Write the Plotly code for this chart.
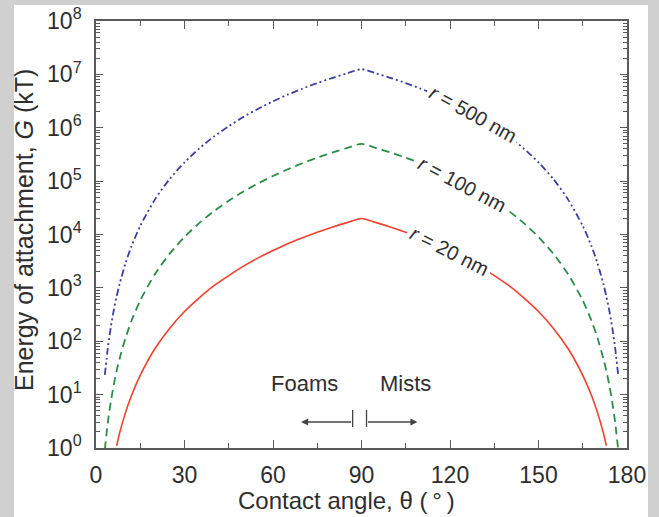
import plotly.graph_objects as go

# Contact angle (degrees) and attachment energy G (kT) for three particle radii
theta_20 = [7, 8, 10, 12, 15, 20, 25, 30, 35, 40, 45, 50, 55, 60, 65, 70, 75, 80, 85, 90,
            95, 100, 105, 110, 115, 120, 125, 130, 135, 140, 145, 150, 155, 160, 165, 168, 170, 172, 173]
g_20 = [1.1, 1.9, 4.6, 9.5, 23, 73, 176, 360, 650, 1100, 1700, 2550, 3650, 5000, 6700, 8650,
        11000, 13700, 16700, 20000,
        16700, 13700, 11000, 8650, 6700, 5000, 3650, 2550, 1700, 1100, 650, 360, 176, 73, 23,
        9.5, 4.6, 1.9, 1.1]

theta_100 = [3, 4, 5, 6, 7, 8, 10, 12, 15, 20, 25, 30, 35, 40, 45, 50, 55, 60, 65, 70, 75, 80, 85, 90,
             95, 100, 105, 110, 115, 120, 125, 130, 135, 140, 145, 150, 155, 160, 165, 168, 170,
             172, 173, 174, 175, 176, 177]
g_100 = [0.94, 3.0, 7.2, 15, 28, 47, 115, 240, 580, 1820, 4390, 8980, 16350, 27400, 42900, 63800,
         90900, 125000, 166700, 216500, 274700, 341500, 416700, 500000,
         416700, 341500, 274700, 216500, 166700, 125000, 90900, 63800, 42900, 27400, 16350, 8980,
         4390, 1820, 580, 240, 115, 47, 28, 15, 7.2, 3.0, 0.94]

theta_500 = theta_100
g_500 = [23.5, 74, 181, 375, 694, 1180, 2890, 5970, 14500, 45500, 110000, 224000, 409000, 684000,
         1.07e6, 1.60e6, 2.27e6, 3.13e6, 4.17e6, 5.41e6, 6.87e6, 8.54e6, 1.04e7, 1.25e7,
         1.04e7, 8.54e6, 6.87e6, 5.41e6, 4.17e6, 3.13e6, 2.27e6, 1.60e6, 1.07e6, 684000, 409000,
         224000, 110000, 45500, 14500, 5970, 2890, 1180, 694, 375, 181, 74, 23.5]

x_ticks = [0, 30, 60, 90, 120, 150, 180]
y_exponents = [0, 1, 2, 3, 4, 5, 6, 7, 8]

FONT = "Liberation Sans, Arial, sans-serif"
AXIS_COLOR = "#5a5a5a"
TEXT_COLOR = "#2e2e2e"

fig = go.Figure()
fig.add_trace(go.Scatter(x=theta_500, y=g_500, mode="lines",
                         line=dict(color="#3d3f9e", width=1.8, dash="7px,3px,2px,3px,2px,3px",
                                   shape="spline", smoothing=0.7),
                         name="r = 500 nm"))
fig.add_trace(go.Scatter(x=theta_100, y=g_100, mode="lines",
                         line=dict(color="#2b8c48", width=1.8, dash="8px,5px",
                                   shape="spline", smoothing=0.7),
                         name="r = 100 nm"))
fig.add_trace(go.Scatter(x=theta_20, y=g_20, mode="lines",
                         line=dict(color="#f0402f", width=1.6, shape="spline", smoothing=0.7),
                         name="r = 20 nm"))

# Plot frame geometry (pixels)
W, H = 659, 517
L, R, T, B = 96, 32, 21, 69
pw, ph = W - L - R, H - T - B


def px_x(p):
    return (p - L) / pw


def px_y(p):
    return (H - B - p) / ph


shapes = [
    # white card behind the whole chart
    dict(type="rect", xref="paper", yref="paper", x0=px_x(14), x1=px_x(648), y0=px_y(517), y1=px_y(5),
         fillcolor="white", line=dict(width=0), layer="below"),
    # separator bars at 90 degrees
    dict(type="line", xref="x", yref="paper", x0=87, x1=87, y0=px_y(427), y1=px_y(410),
         line=dict(color="#444444", width=1.3)),
    dict(type="line", xref="x", yref="paper", x0=91.7, x1=91.7, y0=px_y(427), y1=px_y(410),
         line=dict(color="#444444", width=1.3)),
]

annotations = [
    dict(text="Energy of attachment, <i>G</i> (kT)", xref="paper", yref="paper",
         x=px_x(24), y=px_y(230), textangle=-90, showarrow=False,
         font=dict(family=FONT, size=25, color=TEXT_COLOR), xanchor="center", yanchor="middle"),
    dict(text="Contact angle, \u03b8 (\u2009\u00b0\u2009)", xref="paper", yref="paper",
         x=px_x(346), y=px_y(501), showarrow=False,
         font=dict(family=FONT, size=24, color=TEXT_COLOR), xanchor="center", yanchor="middle"),
    dict(text="Foams", xref="x", yref="paper", x=70.8, y=px_y(383), showarrow=False,
         xanchor="center", yanchor="middle",
         font=dict(family=FONT, size=22, color=TEXT_COLOR)),
    dict(text="Mists", xref="x", yref="paper", x=104.8, y=px_y(383), showarrow=False,
         xanchor="center", yanchor="middle",
         font=dict(family=FONT, size=22, color=TEXT_COLOR)),
    dict(text="", xref="x", yref="paper", x=69.5, y=px_y(422), axref="x", ayref="pixel",
         ax=87, ay=0, showarrow=True, arrowhead=2, arrowsize=1.1, arrowwidth=1.3, arrowcolor="#444444"),
    dict(text="", xref="x", yref="paper", x=109, y=px_y(422), axref="x", ayref="pixel",
         ax=91.7, ay=0, showarrow=True, arrowhead=2, arrowsize=1.1, arrowwidth=1.3, arrowcolor="#444444"),
]

curve_labels = [("<i>r</i> = 500 nm", 127.8, 6.25, 29), ("<i>r</i> = 100 nm", 123.9, 4.94, 28),
                ("<i>r</i> = 20 nm", 119.8, 3.69, 27)]
for txt, lx, ly, ang in curve_labels:
    annotations.append(dict(text=txt, x=lx, y=ly, xref="x", yref="y", showarrow=False,
                            textangle=ang, bgcolor="white", borderpad=3,
                            font=dict(family=FONT, size=20, color=TEXT_COLOR)))

axis_common = dict(showline=True, linecolor=AXIS_COLOR, linewidth=1.6, mirror="allticks",
                   ticks="inside", tickcolor=AXIS_COLOR, tickwidth=1.4, showgrid=False,
                   zeroline=False, tickfont=dict(family=FONT, size=23, color=TEXT_COLOR))

fig.update_layout(
    width=W, height=H,
    margin=dict(l=L, r=R, t=T, b=B, autoexpand=False),
    paper_bgcolor="#d0d0d0", plot_bgcolor="white",
    showlegend=False,
    shapes=shapes, annotations=annotations,
    font=dict(family=FONT, color=TEXT_COLOR),
    xaxis=dict(range=[0, 180], tickvals=x_ticks, ticklen=8, ticklabelstandoff=6,
               minor=dict(dtick=15, ticks="inside", ticklen=5, tickcolor=AXIS_COLOR, tickwidth=1.2),
               **axis_common),
    yaxis=dict(type="log", range=[0, 8], tickvals=[10 ** e for e in y_exponents],
               ticktext=[f"10<sup>{e}</sup>" for e in y_exponents], ticklen=7, ticklabelstandoff=8,
               minor=dict(dtick="D1", ticks="inside", ticklen=4, tickcolor=AXIS_COLOR, tickwidth=1),
               **axis_common),
)

fig.write_html("out.html")
